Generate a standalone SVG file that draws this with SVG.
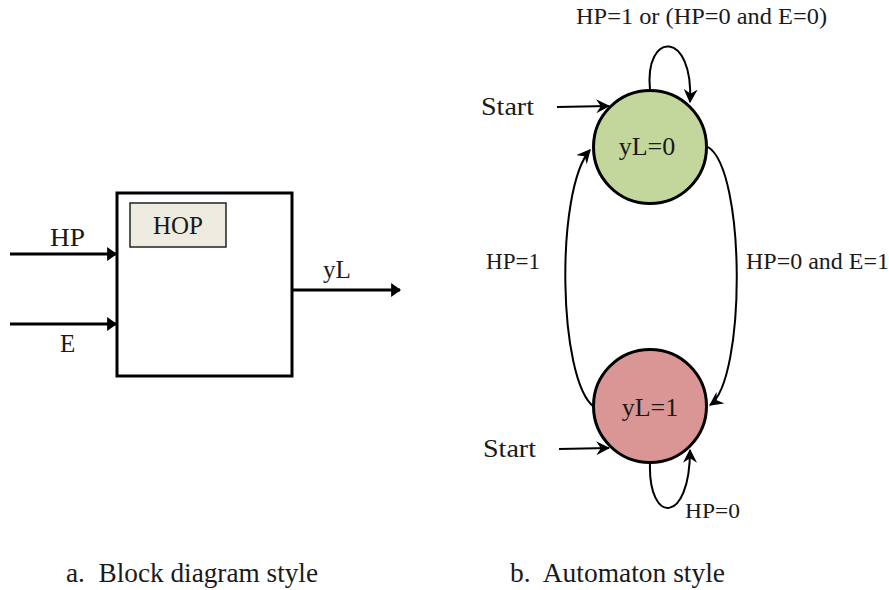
<svg xmlns="http://www.w3.org/2000/svg" width="889" height="590" viewBox="0 0 889 590">
<defs>
<marker id="tri" viewBox="0 0 10 14" refX="9" refY="7" markerWidth="3.3" markerHeight="4.6" orient="auto" markerUnits="strokeWidth">
<path d="M0,0 L10,7 L0,14 z" fill="#000"/>
</marker>
<marker id="stealth" viewBox="0 0 12 12" refX="11" refY="6" markerWidth="7" markerHeight="7" orient="auto" markerUnits="strokeWidth">
<path d="M0,0 L12,6 L0,12 L4,6 z" fill="#000"/>
</marker>
</defs>
<style>
text{font-family:"Liberation Serif","Times New Roman",serif;fill:#1a1a1a}
.edge{fill:none;stroke:#000;stroke-width:2}
.thick{fill:none;stroke:#000;stroke-width:3}
</style>
<rect width="889" height="590" fill="#fff"/>
<g id="block">
<rect x="117" y="193" width="175" height="183" fill="#fff" stroke="#000" stroke-width="3"/>
</g>
<g id="hop">
<rect x="130" y="203" width="96" height="44" fill="#EEECE1" stroke="#222" stroke-width="1.5"/>
<text x="178" y="234" font-size="25" text-anchor="middle">HOP</text>
</g>
<g id="state0">
<circle cx="650" cy="147" r="56.5" fill="#C3D69B" stroke="#000" stroke-width="3"/>
<text x="647" y="155" font-size="26" text-anchor="middle">yL=0</text>
</g>
<g id="state1">
<circle cx="650" cy="406" r="56.5" fill="#D99694" stroke="#000" stroke-width="3"/>
<text x="650" y="416" font-size="26" text-anchor="middle">yL=1</text>
</g>
<g id="connectors">
<line x1="10" y1="254" x2="116" y2="254" class="thick" marker-end="url(#tri)"/>
<line x1="10" y1="324" x2="116" y2="324" class="thick" marker-end="url(#tri)"/>
<line x1="292" y1="290" x2="400" y2="290" class="thick" marker-end="url(#tri)"/>
<line x1="557" y1="107" x2="609" y2="106" class="edge" marker-end="url(#stealth)"/>
<line x1="559" y1="449" x2="609" y2="448" class="edge" marker-end="url(#stealth)"/>
<path d="M650,90 C644,30 694,30 690,102" class="edge" marker-end="url(#stealth)"/>
<path d="M594,407 C558,380 555,190 590,150" class="edge" marker-end="url(#stealth)"/>
<path d="M708,147 C746,170 746,380 710,405" class="edge" marker-end="url(#stealth)"/>
<path d="M650,463 C648,525 690,525 690,450" class="edge" marker-end="url(#stealth)"/>
</g>
<g id="labels">
<text x="50" y="246" font-size="25" textLength="35" lengthAdjust="spacingAndGlyphs">HP</text>
<text x="60" y="352" font-size="25">E</text>
<text x="323" y="278" font-size="25">yL</text>
<text x="576" y="24" font-size="24" textLength="251" lengthAdjust="spacingAndGlyphs">HP=1 or (HP=0 and E=0)</text>
<text x="481" y="115" font-size="26" textLength="53" lengthAdjust="spacingAndGlyphs">Start</text>
<text x="483" y="457" font-size="26" textLength="53" lengthAdjust="spacingAndGlyphs">Start</text>
<text x="486" y="269" font-size="24" textLength="54" lengthAdjust="spacingAndGlyphs">HP=1</text>
<text x="746" y="269" font-size="24" textLength="143" lengthAdjust="spacingAndGlyphs">HP=0 and E=1</text>
<text x="685" y="518" font-size="22" textLength="55" lengthAdjust="spacingAndGlyphs">HP=0</text>
<text x="66" y="582" font-size="28" textLength="252" lengthAdjust="spacingAndGlyphs" xml:space="preserve">a.  Block diagram style</text>
<text x="510" y="582" font-size="28" textLength="215" lengthAdjust="spacingAndGlyphs" xml:space="preserve">b.  Automaton style</text>
</g>
</svg>
